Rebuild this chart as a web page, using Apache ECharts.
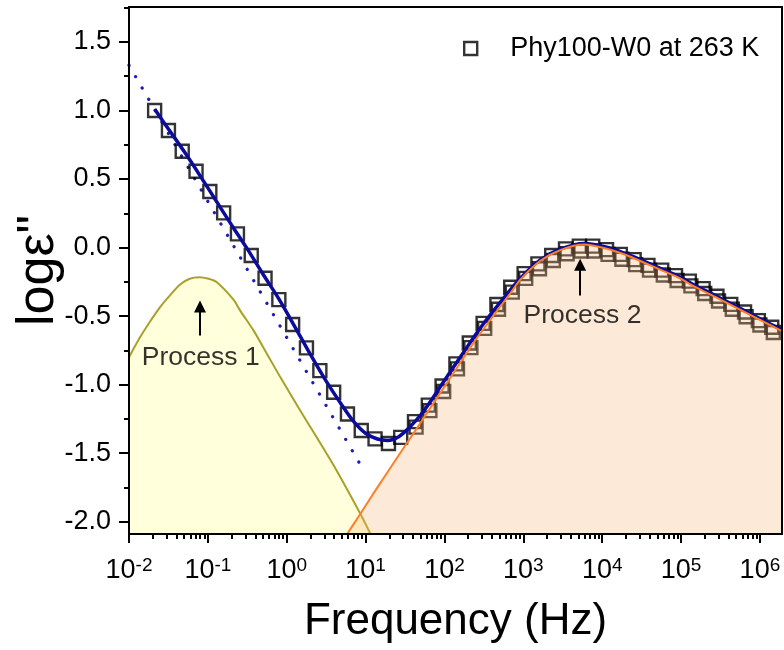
<!DOCTYPE html>
<html>
<head>
<meta charset="utf-8">
<script src="https://cdn.jsdelivr.net/npm/echarts@6/dist/echarts.min.js"></script>
<style>
  html, body { margin: 0; padding: 0; background: #fff; }
  #chart { width: 784px; height: 650px; }
</style>
</head>
<body>
<div id="chart"></div>
<script>
const FONT = '"Liberation Sans", Arial, sans-serif';
const legendName = "Phy100-W0 at 263 K";

// tick positions (x axis is log10 of frequency)
const xTickLogs = [-2, -1, 0, 1, 2, 3, 4, 5, 6];
const yTickValues = [-2, -1.5, -1, -0.5, 0, 0.5, 1, 1.5];
const yMinorValues = [-1.75, -1.25, -0.75, -0.25, 0.25, 0.75, 1.25, 1.75];
const xMinorFactors = [2, 3, 4, 5, 6, 7, 8, 9];

// measured data, log10(f) and log eps''
const measuredLogF = [-1.675, -1.50, -1.325, -1.15, -0.975, -0.80, -0.625, -0.45, -0.275, -0.10,
  0.075, 0.25, 0.42, 0.595, 0.77, 0.945, 1.12, 1.29, 1.445, 1.62,
  1.795, 1.97, 2.145, 2.315, 2.49, 2.665, 2.84, 3.01, 3.185, 3.36,
  3.535, 3.71, 3.88, 4.055, 4.23, 4.405, 4.58, 4.755, 4.93, 5.105,
  5.28, 5.455, 5.63, 5.805, 5.98, 6.15];
const measuredLogEps = [1.00, 0.854, 0.703, 0.557, 0.409, 0.253, 0.10, -0.058, -0.224, -0.38,
  -0.562, -0.732, -0.898, -1.056, -1.214, -1.335, -1.396, -1.43, -1.385, -1.27,
  -1.15, -1.01, -0.849, -0.696, -0.553, -0.416, -0.29, -0.19, -0.119, -0.058,
  -0.01, 0.01, 0.01, -0.015, -0.05, -0.088, -0.13, -0.165, -0.205, -0.245,
  -0.30, -0.355, -0.415, -0.47, -0.533, -0.582];

// conductivity-corrected data (seen under the process 2 fill)
const correctedLogF = [1.64, 1.815, 1.99, 2.165, 2.335, 2.51, 2.685, 2.86, 3.03, 3.205,
  3.38, 3.555, 3.73, 3.90, 4.075, 4.25, 4.425, 4.60, 4.775, 4.95,
  5.125, 5.30, 5.475, 5.65, 5.825, 6.00, 6.17];
const correctedLogEps = [-1.31, -1.19, -1.05, -0.885, -0.73, -0.59, -0.45, -0.325, -0.225, -0.155,
  -0.095, -0.045, -0.025, -0.025, -0.05, -0.085, -0.125, -0.165, -0.20, -0.24,
  -0.28, -0.335, -0.39, -0.45, -0.505, -0.565, -0.62];

// fitted curves [log10 f, log eps'']
const fitTotal = [[-1.675, 1.01], [-1.5, 0.865], [-1.3, 0.70], [-1.1, 0.525], [-0.9, 0.345],
  [-0.7, 0.165], [-0.5, -0.01], [-0.3, -0.195], [-0.1, -0.375], [0.1, -0.575],
  [0.3, -0.78], [0.5, -0.975], [0.7, -1.15], [0.85, -1.27], [1.0, -1.355],
  [1.15, -1.397], [1.28, -1.407], [1.42, -1.38], [1.56, -1.31], [1.7, -1.22],
  [1.85, -1.10], [2.0, -0.97], [2.2, -0.80], [2.45, -0.59], [2.7, -0.405],
  [2.97, -0.22], [3.22, -0.088], [3.475, -0.01], [3.77, 0.03], [4.07, 0.0],
  [4.32, -0.05], [4.49, -0.09], [4.75, -0.155], [5.0, -0.22], [5.13, -0.262],
  [5.5, -0.37], [6.02, -0.525], [6.28, -0.602]];
const conductionFit = [[-2, 1.33], [0.98, -1.63]];
const process1Fit = [[-2, -0.80], [-1.86, -0.655], [-1.733, -0.54], [-1.62, -0.445], [-1.52, -0.375],
  [-1.352, -0.27], [-1.23, -0.228], [-1.11, -0.217], [-0.99, -0.228], [-0.886, -0.253],
  [-0.675, -0.38], [-0.59, -0.46], [-0.42, -0.606], [-0.25, -0.776],
  [-0.08, -0.947], [0.173, -1.19], [0.596, -1.59], [0.935, -1.944], [1.062, -2.09]];
const process2Fit = [[0.766, -2.09], [0.914, -1.96], [1.15, -1.75], [1.38, -1.55], [1.613, -1.35],
  [1.867, -1.13], [2.121, -0.91], [2.375, -0.69], [2.63, -0.49], [2.84, -0.33],
  [2.97, -0.229], [3.22, -0.095], [3.475, -0.017], [3.77, 0.022], [4.07, -0.01],
  [4.32, -0.058], [4.49, -0.10], [4.75, -0.165], [5.0, -0.228], [5.13, -0.272],
  [5.5, -0.38], [6.02, -0.533], [6.28, -0.61]];

// peak annotations: arrow tail/tip and label centre, in data units
const peakNames = ["Process 1", "Process 2"];
const peakLogF = [-1.1, 3.72];
const arrowTail = [-0.642, -0.35];
const arrowTip = [-0.43, -0.126];
const labelLogF = [-1.09, 3.75];
const labelLogEps = [-0.80, -0.50];

const xMinorLogs = [];
xTickLogs.forEach((n) => {
  xMinorFactors.forEach((k) => {
    const v = n + Math.log10(k);
    if (v < 6.28) xMinorLogs.push(v);
  });
});

const black = "#000";
const tickLine = { color: black, width: 2 };

function lineOnlyAxis(position, min, max) {
  return {
    type: "value", position, min, max, z: 10,
    axisLine: { show: true, onZero: false, lineStyle: tickLine },
    axisTick: { show: false },
    axisLabel: { show: false },
    splitLine: { show: false }
  };
}

function minorAxis(position, min, max, values) {
  return {
    type: "value", position, min, max, z: 10,
    axisLine: { show: false, onZero: false },
    axisTick: { show: true, inside: false, length: 5, lineStyle: tickLine, customValues: values },
    axisLabel: { show: false },
    splitLine: { show: false }
  };
}

const squareStyle = { color: "rgba(0,0,0,0)", borderColor: black, borderWidth: 2.4 };

const chart = echarts.init(document.getElementById("chart"));

chart.setOption({
  animation: false,
  backgroundColor: "#fff",
  textStyle: { fontFamily: FONT },
  grid: { left: 129, right: 2, top: 7, bottom: 116, containLabel: false, outerBoundsMode: "none" },
  legend: {
    data: [legendName],
    left: 458,
    top: 30,
    icon: "rect",
    itemWidth: 13,
    itemHeight: 13,
    selectedMode: false,
    itemStyle: squareStyle,
    textStyle: { fontFamily: FONT, fontSize: 27, color: black, padding: [0, 0, 0, 28] }
  },
  xAxis: [
    {
      type: "value", position: "bottom", min: -2, max: 6.28, z: 10,
      name: "Frequency (Hz)", nameLocation: "middle", nameGap: 66, nameMoveOverlap: false,
      nameTextStyle: { fontFamily: FONT, fontSize: 44, color: black },
      axisLine: { show: true, onZero: false, lineStyle: tickLine },
      axisTick: { show: true, inside: false, length: 9, lineStyle: tickLine, customValues: xTickLogs },
      axisLabel: {
        customValues: xTickLogs,
        margin: 22,
        formatter: (v) => "{b|10}{s|" + v + "}",
        rich: {
          b: { fontFamily: FONT, fontSize: 27, lineHeight: 30, color: black },
          s: { fontFamily: FONT, fontSize: 19, lineHeight: 16, verticalAlign: "top", color: black }
        }
      },
      splitLine: { show: false }
    },
    minorAxis("bottom", -2, 6.28, xMinorLogs),
    lineOnlyAxis("top", -2, 6.28)
  ],
  yAxis: [
    {
      type: "value", position: "left", min: -2.09, max: 1.755, z: 10,
      name: 'logε"', nameLocation: "middle", nameGap: 64, nameMoveOverlap: false,
      nameTextStyle: { fontFamily: FONT, fontSize: 52, color: black },
      axisLine: { show: true, onZero: false, lineStyle: tickLine },
      axisTick: { show: true, inside: false, length: 10, lineStyle: tickLine, customValues: yTickValues },
      axisLabel: {
        customValues: yTickValues,
        margin: 18,
        fontFamily: FONT, fontSize: 27, color: black,
        formatter: (v) => v.toFixed(1)
      },
      splitLine: { show: false }
    },
    minorAxis("left", -2.09, 1.755, yMinorValues),
    lineOnlyAxis("right", -2.09, 1.755)
  ],
  series: [
    {
      name: "Process 1 fit", type: "line", z: 1, silent: true,
      data: process1Fit, symbol: "none", smooth: 0.3,
      lineStyle: { color: "#a9a02a", width: 2 },
      areaStyle: { color: "rgba(255,255,0,0.2)", origin: "start" }
    },
    {
      name: "corrected", type: "scatter", z: 2, silent: true,
      data: correctedLogF.map((f, i) => [f, correctedLogEps[i]]),
      symbol: "rect", symbolSize: 13, itemStyle: squareStyle
    },
    {
      name: legendName, type: "scatter", z: 2, silent: true,
      data: measuredLogF.map((f, i) => [f, measuredLogEps[i]]),
      symbol: "rect", symbolSize: 13, itemStyle: squareStyle
    },
    {
      name: "conduction", type: "line", z: 2, silent: true,
      data: conductionFit, symbol: "none",
      lineStyle: { color: "#1c1cb4", width: 3.2, type: [0.1, 13], cap: "round" }
    },
    {
      name: "total fit", type: "line", z: 3, silent: true,
      data: fitTotal, symbol: "none", smooth: 0.3,
      lineStyle: { color: "#0b0b9c", width: 3.5 }
    },
    {
      name: "Process 2 fit", type: "line", z: 4, silent: true,
      data: process2Fit, symbol: "none", smooth: 0.3,
      lineStyle: { color: "#ff7f27", width: 2 },
      areaStyle: { color: "rgba(250,182,125,0.44)", origin: "start" }
    },
    {
      name: "peaks", type: "scatter", z: 5, silent: true,
      data: peakNames.map((n, i) => ({ name: n, value: [labelLogF[i], labelLogEps[i]] })),
      symbolSize: 1,
      itemStyle: { color: "rgba(0,0,0,0)" },
      label: {
        show: true, position: "inside", formatter: "{b}",
        fontFamily: FONT, fontSize: 26.5, color: black
      },
      markLine: {
        silent: true,
        symbol: ["none", "triangle"],
        symbolSize: 12,
        label: { show: false },
        lineStyle: { color: black, width: 2, type: "solid" },
        emphasis: { disabled: true },
        data: peakNames.map((n, i) => [
          { coord: [peakLogF[i], arrowTail[i]] },
          { coord: [peakLogF[i], arrowTip[i]] }
        ])
      }
    }
  ]
});
</script>
</body>
</html>
